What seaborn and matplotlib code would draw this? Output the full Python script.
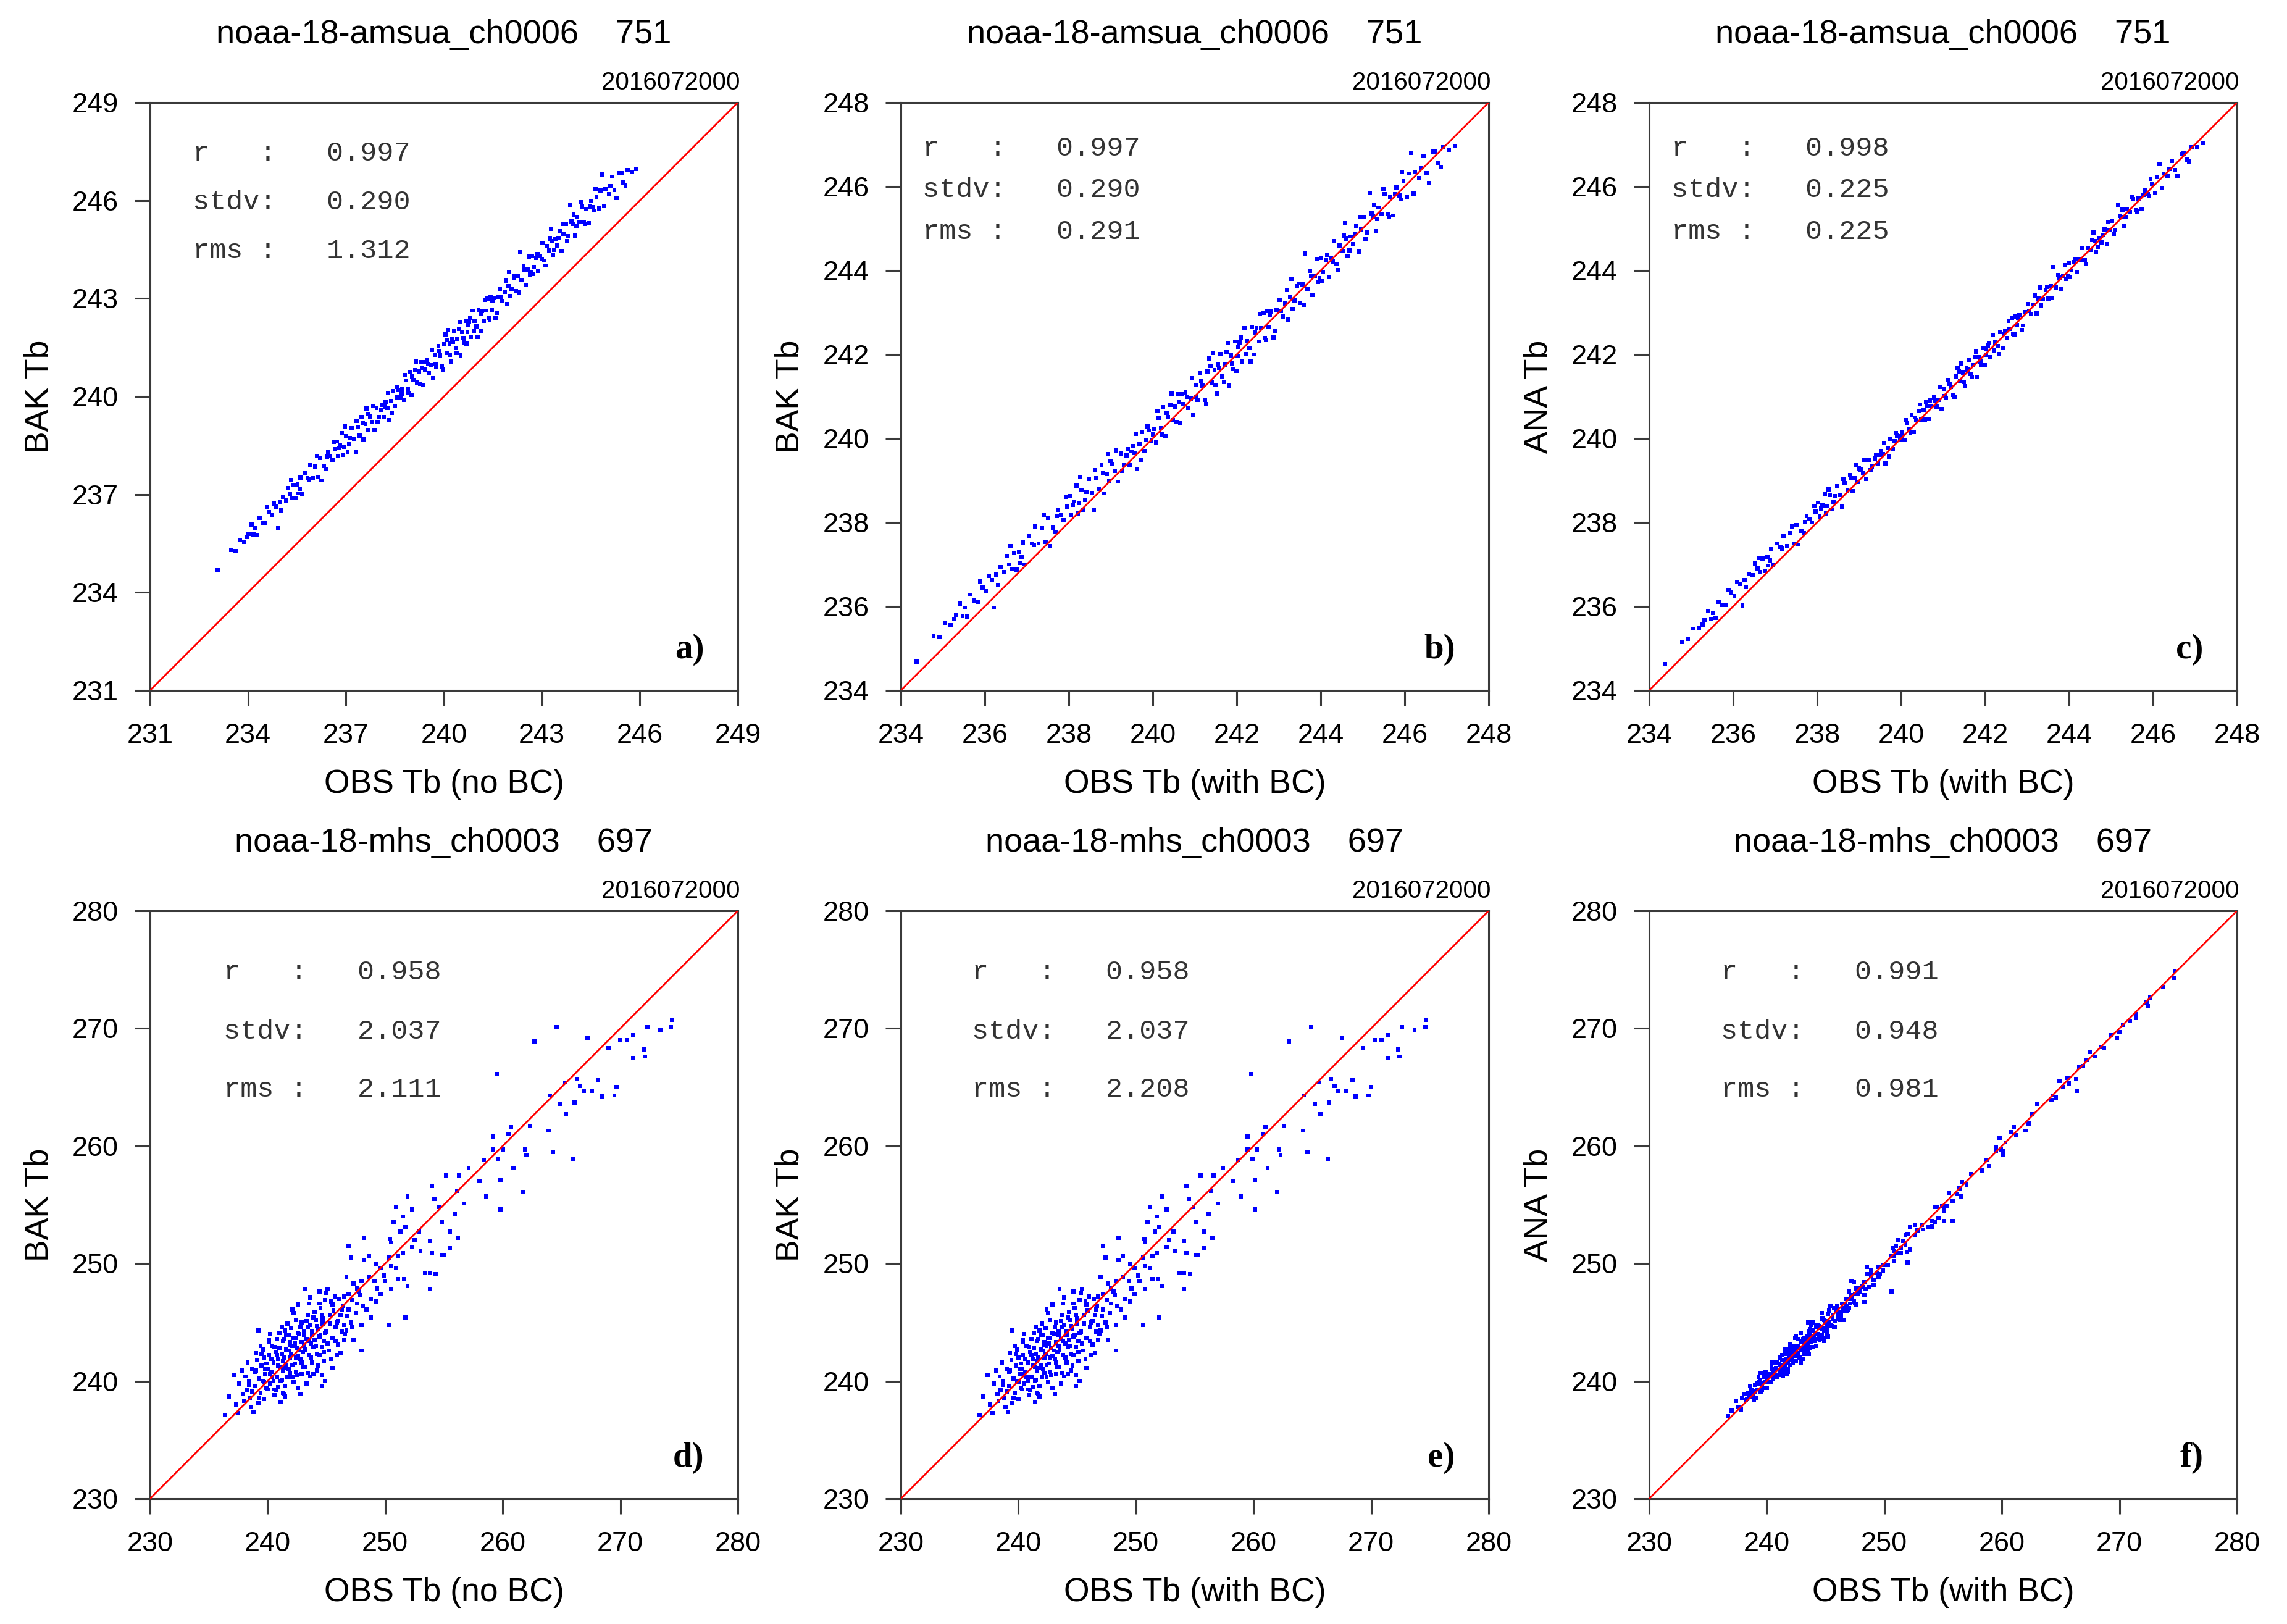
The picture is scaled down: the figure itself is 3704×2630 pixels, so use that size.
import matplotlib
matplotlib.use("Agg")
import matplotlib.pyplot as plt
import seaborn as sns
import pandas as pd

sns.set_theme(style="ticks")
plt.rcParams['font.family'] = ['Liberation Sans', 'DejaVu Sans']

# ---------------- data: AMSU-A channel 6 ----------------
amsua_obs_bc = [234.37, 234.78, 234.92, 235.05, 235.18, 235.32, 235.41, 235.47, 235.52, 235.58,
                235.66, 235.74, 235.83, 235.95, 236.03, 236.10, 236.17, 236.22, 236.31, 236.38,
                236.46, 236.52, 236.58, 236.64, 236.70, 236.76, 236.82, 236.88, 236.95, 237.05,
                237.12, 237.20, 237.28, 237.36, 237.45, 237.55, 237.62, 237.68, 237.75, 237.82,
                237.88, 237.96, 238.02, 238.06, 238.12, 238.18, 238.24, 238.30, 238.35, 238.42,
                238.48, 238.55, 238.60, 238.66, 238.72, 238.78, 238.84, 238.90, 238.96, 239.04,
                239.10, 239.17, 239.24, 239.31, 239.38, 239.45, 239.52, 239.57, 239.62, 239.68,
                239.74, 239.80, 239.85, 239.91, 239.97, 240.03, 240.08, 240.14, 240.19, 240.25,
                240.30, 240.36, 240.42, 240.48, 240.54, 240.60, 240.66, 240.72, 240.78, 240.84,
                240.90, 240.96, 241.02, 241.07, 241.13, 241.18, 241.24, 241.30, 241.35, 241.41,
                241.47, 241.52, 241.56, 241.61, 241.66, 241.71, 241.76, 241.81, 241.86, 241.91,
                241.96, 242.02, 242.07, 242.13, 242.18, 242.24, 242.30, 242.36, 242.42, 242.47,
                242.53, 242.58, 242.64, 242.70, 242.76, 242.82, 242.88, 242.95, 243.02, 243.09,
                243.16, 243.23, 243.30, 243.37, 243.44, 243.51, 243.57, 243.63, 243.68, 243.74,
                243.80, 243.86, 243.93, 244.00, 244.06, 244.12, 244.19, 244.25, 244.32, 244.38,
                244.45, 244.52, 244.58, 244.64, 244.71, 244.77, 244.84, 244.90, 244.96, 245.03,
                245.10, 245.17, 245.24, 245.31, 245.38, 245.45, 245.52, 245.59, 245.66, 245.73,
                245.80, 245.87, 245.94, 246.05, 246.15, 246.25, 246.35, 246.45, 246.58, 246.68,
                246.80, 246.92, 247.05, 247.19,
                235.27, 235.89, 236.27, 236.61, 236.91, 237.17, 237.41, 237.71, 237.93, 238.09,
                238.27, 238.39, 238.63, 238.81, 238.99, 239.13, 239.27, 239.41, 239.59, 239.71,
                239.88, 240.01, 240.11, 240.22, 240.33, 240.45, 240.57, 240.69, 240.81, 240.93,
                241.04, 241.16, 241.27, 241.38, 241.49, 241.58, 241.69, 241.79, 241.89, 241.99,
                242.10, 242.21, 242.33, 242.44, 242.56, 242.67, 242.79, 242.91, 243.05, 243.19,
                243.33, 243.47, 243.60, 243.77, 243.90, 244.03, 244.16, 244.29, 244.41, 244.55,
                244.68, 244.81, 244.93, 245.07, 245.21, 245.35, 245.49, 245.63, 245.77, 245.91,
                246.09, 246.21, 246.39, 246.52, 246.73, 246.86, 236.83, 237.51, 238.21, 238.93,
                239.49, 240.63, 241.43, 242.03, 242.73, 243.27, 243.97, 244.61, 245.27, 245.97]

amsua_obs_nobc = [233.07, 233.48, 233.62, 233.75, 233.88, 234.02, 234.11, 234.17, 234.22, 234.28,
                  234.36, 234.44, 234.53, 234.65, 234.73, 234.80, 234.87, 234.92, 235.01, 235.08,
                  235.16, 235.22, 235.28, 235.34, 235.40, 235.46, 235.52, 235.58, 235.65, 235.75,
                  235.82, 235.90, 235.98, 236.06, 236.15, 236.25, 236.32, 236.38, 236.45, 236.52,
                  236.58, 236.66, 236.72, 236.76, 236.82, 236.88, 236.94, 237.00, 237.05, 237.12,
                  237.18, 237.25, 237.30, 237.36, 237.42, 237.48, 237.54, 237.60, 237.66, 237.74,
                  237.80, 237.87, 237.94, 238.01, 238.08, 238.15, 238.22, 238.27, 238.32, 238.38,
                  238.44, 238.50, 238.55, 238.61, 238.67, 238.73, 238.78, 238.84, 238.89, 238.95,
                  239.00, 239.06, 239.12, 239.18, 239.24, 239.30, 239.36, 239.42, 239.48, 239.54,
                  239.60, 239.66, 239.72, 239.77, 239.83, 239.88, 239.94, 240.00, 240.05, 240.11,
                  240.17, 240.22, 240.26, 240.31, 240.36, 240.41, 240.46, 240.51, 240.56, 240.61,
                  240.66, 240.72, 240.77, 240.83, 240.88, 240.94, 241.00, 241.06, 241.12, 241.17,
                  241.23, 241.28, 241.34, 241.40, 241.46, 241.52, 241.58, 241.65, 241.72, 241.79,
                  241.86, 241.93, 242.00, 242.07, 242.14, 242.21, 242.27, 242.33, 242.38, 242.44,
                  242.50, 242.56, 242.63, 242.70, 242.76, 242.82, 242.89, 242.95, 243.02, 243.08,
                  243.15, 243.22, 243.28, 243.34, 243.41, 243.47, 243.54, 243.60, 243.66, 243.73,
                  243.80, 243.87, 243.94, 244.01, 244.08, 244.15, 244.22, 244.29, 244.36, 244.43,
                  244.50, 244.57, 244.64, 244.75, 244.85, 244.95, 245.05, 245.15, 245.28, 245.38,
                  245.50, 245.62, 245.75, 245.89,
                  233.97, 234.59, 234.97, 235.31, 235.61, 235.87, 236.11, 236.41, 236.63, 236.79,
                  236.97, 237.09, 237.33, 237.51, 237.69, 237.83, 237.97, 238.11, 238.29, 238.41,
                  238.58, 238.71, 238.81, 238.92, 239.03, 239.15, 239.27, 239.39, 239.51, 239.63,
                  239.74, 239.86, 239.97, 240.08, 240.19, 240.28, 240.39, 240.49, 240.59, 240.69,
                  240.80, 240.91, 241.03, 241.14, 241.26, 241.37, 241.49, 241.61, 241.75, 241.89,
                  242.03, 242.17, 242.30, 242.47, 242.60, 242.73, 242.86, 242.99, 243.11, 243.25,
                  243.38, 243.51, 243.63, 243.77, 243.91, 244.05, 244.19, 244.33, 244.47, 244.61,
                  244.79, 244.91, 245.09, 245.22, 245.43, 245.56, 235.53, 236.21, 236.91, 237.63,
                  238.19, 239.33, 240.13, 240.73, 241.43, 241.97, 242.67, 243.31, 243.97, 244.67]

amsua_bak = [234.68, 235.30, 235.27, 235.61, 235.55, 235.80, 236.07, 235.77, 235.97, 235.76,
             236.28, 236.14, 236.11, 236.45, 236.36, 236.72, 236.62, 235.97, 236.51, 236.93,
             236.82, 237.20, 237.00, 236.89, 237.28, 236.88, 237.30, 237.18, 237.00, 237.67,
             237.50, 237.90, 237.50, 237.86, 237.53, 237.43, 237.87, 237.78, 238.30, 238.17,
             238.06, 238.38, 238.62, 238.18, 238.50, 238.88, 238.46, 238.78, 238.30, 238.72,
             239.03, 238.70, 238.30, 239.06, 238.80, 239.36, 238.69, 239.15, 238.98, 239.39,
             239.22, 238.97, 239.64, 239.36, 239.60, 239.37, 239.82, 239.65, 239.27, 239.86,
             240.16, 239.70, 239.97, 240.19, 239.95, 240.23, 239.90, 240.49, 240.24, 240.75,
             240.05, 240.51, 240.80, 240.43, 240.76, 241.05, 240.36, 240.82, 241.10, 240.72,
             240.95, 240.56, 241.27, 240.92, 241.55, 241.26, 240.92, 241.60, 241.90, 241.33,
             241.62, 241.07, 241.76, 242.01, 241.48, 241.76, 242.06, 241.26, 241.98, 241.66,
             242.31, 241.97, 242.29, 241.83, 242.63, 242.32, 242.15, 242.66, 242.00, 242.62,
             242.31, 242.63, 242.99, 242.35, 242.66, 243.02, 242.40, 243.05, 243.30, 242.91,
             243.21, 242.83, 243.80, 243.29, 243.62, 243.23, 243.67, 244.41, 243.56, 243.99,
             243.42, 243.88, 243.73, 244.30, 243.96, 244.24, 243.84, 244.30, 244.70, 244.16,
             244.60, 244.47, 245.13, 244.34, 244.81, 244.62, 245.06, 244.45, 244.98, 245.28,
             244.90, 245.85, 245.29, 244.93, 245.50, 245.35, 245.82, 245.34, 245.74, 245.31,
             245.98, 245.79, 246.34, 245.75, 246.80, 246.35, 246.20, 246.73, 246.08, 246.83,
             246.55, 246.94, 246.87, 246.96,
             235.69, 236.60, 236.76, 237.44, 237.52, 237.46, 238.18, 238.15, 238.61, 238.42,
             239.08, 238.54, 239.25, 239.18, 239.47, 239.71, 239.22, 239.74, 240.11, 239.49,
             240.29, 240.09, 240.66, 240.10, 240.61, 241.07, 240.39, 241.05, 240.99, 241.43,
             240.99, 241.38, 240.82, 241.73, 241.27, 241.68, 241.34, 242.27, 241.79, 241.61,
             242.40, 242.01, 241.83, 242.52, 242.96, 242.39, 242.94, 242.56, 243.03, 243.54,
             243.08, 243.69, 243.18, 243.87, 244.28, 243.75, 244.36, 244.21, 244.01, 244.83,
             244.48, 244.86, 245.28, 244.75, 245.36, 245.23, 245.94, 245.28, 245.82, 245.69,
             246.31, 245.83, 246.44, 246.32, 246.83, 246.46, 237.03, 238.11, 238.21, 239.63,
             239.69, 240.88, 242.03, 242.18, 243.03, 243.37, 243.82, 244.76, 245.57, 246.12]

amsua_ana = [234.62, 235.16, 235.22, 235.47, 235.48, 235.67, 235.89, 235.69, 235.85, 235.73,
             236.11, 236.04, 236.03, 236.33, 236.25, 236.58, 236.53, 236.02, 236.46, 236.78,
             236.74, 237.02, 236.90, 236.82, 237.14, 236.84, 237.17, 237.10, 236.99, 237.50,
             237.42, 237.68, 237.44, 237.74, 237.50, 237.47, 237.80, 237.74, 238.15, 238.08,
             238.00, 238.26, 238.47, 238.14, 238.40, 238.68, 238.39, 238.65, 238.31, 238.62,
             238.86, 238.65, 238.38, 238.94, 238.76, 239.13, 238.74, 239.05, 238.96, 239.26,
             239.18, 239.03, 239.49, 239.33, 239.52, 239.40, 239.70, 239.62, 239.40, 239.78,
             239.99, 239.74, 239.93, 240.07, 239.97, 240.15, 239.96, 240.36, 240.22, 240.55,
             240.15, 240.44, 240.66, 240.45, 240.68, 240.88, 240.46, 240.78, 240.98, 240.76,
             240.92, 240.70, 241.17, 240.97, 241.39, 241.23, 241.04, 241.48, 241.67, 241.36,
             241.57, 241.24, 241.68, 241.86, 241.54, 241.74, 241.94, 241.46, 241.94, 241.75,
             242.16, 241.99, 242.21, 241.93, 242.46, 242.29, 242.20, 242.54, 242.16, 242.55,
             242.39, 242.61, 242.86, 242.48, 242.70, 242.94, 242.58, 243.01, 243.20, 242.97,
             243.19, 242.98, 243.60, 243.32, 243.54, 243.33, 243.63, 244.08, 243.60, 243.89,
             243.56, 243.87, 243.80, 244.18, 244.00, 244.20, 243.97, 244.28, 244.54, 244.24,
             244.54, 244.49, 244.90, 244.44, 244.77, 244.67, 244.98, 244.62, 244.97, 245.18,
             244.96, 245.57, 245.27, 245.07, 245.46, 245.39, 245.70, 245.43, 245.71, 245.47,
             245.90, 245.82, 246.18, 245.85, 246.53, 246.31, 246.25, 246.61, 246.26, 246.78,
             246.64, 246.93, 246.93, 247.04,
             235.57, 236.39, 236.63, 237.16, 237.36, 237.37, 237.91, 238.01, 238.39, 238.33,
             238.79, 238.49, 239.03, 239.06, 239.29, 239.49, 239.24, 239.61, 239.89, 239.57,
             240.13, 240.06, 240.44, 240.14, 240.50, 240.81, 240.45, 240.91, 240.91, 241.23,
             241.01, 241.30, 240.99, 241.60, 241.35, 241.64, 241.47, 242.07, 241.83, 241.75,
             242.28, 242.09, 242.01, 242.49, 242.80, 242.49, 242.88, 242.69, 243.04, 243.41,
             243.17, 243.61, 243.34, 243.83, 244.12, 243.85, 244.28, 244.24, 244.16, 244.72,
             244.56, 244.84, 245.15, 244.87, 245.30, 245.27, 245.76, 245.41, 245.80, 245.77,
             246.23, 245.97, 246.42, 246.39, 246.79, 246.60, 236.97, 237.93, 238.21, 239.38,
             239.61, 240.78, 241.79, 242.12, 242.91, 243.33, 243.88, 244.70, 245.45, 246.06]

# ---------------- data: MHS channel 3 ----------------
mhs_obs_nobc = [274.4, 274.3, 273.4, 272.3, 271.1, 270.6, 270.0, 271.1, 272.0, 272.1,
                269.0, 267.2, 264.6, 262.7, 269.7, 269.5, 268.4, 268.1, 267.6, 266.9,
                266.6, 266.3, 266.1, 265.4, 265.3, 264.9, 264.0, 266.0, 264.3, 263.9,
                262.3, 261.9, 262.0, 260.9, 261.7, 260.7, 260.5, 259.5, 260.0, 259.6,
                259.2, 259.8, 259.2, 259.8, 258.4, 258.6, 258.0, 257.1, 256.7, 256.3,
                256.1, 255.2, 255.9, 256.2, 255.5, 254.6, 254.8, 254.0, 254.2, 253.8,
                254.0, 254.8, 255.0, 255.5, 253.8, 253.4, 253.8, 254.3, 253.0, 252.5,
                252.3, 252.9, 251.9, 250.9, 251.5, 251.7, 252.3, 251.3, 250.7, 250.5,
                250.3, 250.9, 251.1, 251.5, 251.6, 251.9, 251.7, 250.0, 250.5, 251.1,
                250.5, 250.3, 249.6, 249.2, 249.1, 248.8, 249.2, 249.6, 248.2, 248.2,
                248.6, 248.0, 247.3, 247.8, 248.4, 248.8, 248.0, 247.6, 246.9, 247.1,
                246.7, 246.5, 246.9, 247.1, 246.3, 248.0, 247.3, 246.7,
                236.4, 236.7, 237.1, 237.6, 238.0, 238.4, 238.8, 239.0, 239.2, 239.7, 240.1, 240.5,
                241.1, 241.5, 241.5, 242.1, 242.6, 243.2, 243.6, 244.2, 244.6, 244.9,
                244.4, 245.1, 245.5, 245.9, 246.3, 245.9, 245.5, 246.5, 246.5,
                238.2, 238.5, 238.7, 238.9, 238.3, 238.6, 238.9, 238.1,
                239.1, 239.3, 239.4, 239.5, 239.6, 239.8, 239.9, 239.2, 239.7, 239.4, 239.9, 239.6,
                240.0, 240.1, 240.2, 240.3, 240.4, 240.5, 240.6, 240.7, 240.8, 240.9, 240.2, 240.5, 240.8, 240.9,
                241.0, 241.1, 241.2, 241.3, 241.4, 241.5, 241.6, 241.7, 241.8, 241.9, 241.2, 241.4, 241.6, 241.8, 241.9, 241.3,
                242.0, 242.1, 242.2, 242.3, 242.4, 242.5, 242.6, 242.7, 242.8, 242.9, 242.2, 242.4, 242.6, 242.8, 242.9, 242.1,
                243.0, 243.1, 243.2, 243.3, 243.4, 243.5, 243.6, 243.7, 243.8, 243.9, 243.3, 243.5, 243.8, 243.1,
                244.0, 244.1, 244.2, 244.3, 244.5, 244.6, 244.7, 244.8, 244.9, 244.4, 244.6, 244.8,
                245.0, 245.2, 245.3, 245.5, 245.7, 245.8, 246.0, 246.2, 245.4, 246.1,
                247.5, 247.9, 246.8, 247.2, 237.3, 237.8, 237.5,
                238.4, 239.0, 239.3, 239.5, 239.8, 240.0, 240.1, 240.3, 240.4, 240.6,
                240.7, 240.9, 241.0, 241.1, 241.2, 241.3, 241.4, 241.5, 241.6, 241.7,
                241.8, 241.9, 242.0, 242.1, 242.2, 242.3, 242.4, 242.5, 242.6, 242.7,
                242.8, 242.9, 243.0, 243.1, 243.2, 243.3, 243.4, 243.5, 243.6, 243.7,
                243.8, 243.9, 244.0, 244.1, 244.2, 244.3, 244.4, 244.5, 244.6, 244.7,
                244.8, 244.9, 245.0, 245.1, 245.3, 245.4, 245.6, 245.8, 246.0, 246.2,
                246.4, 246.6, 246.9, 247.2, 247.6, 248.1, 248.6, 249.3, 249.9, 250.4,
                240.2, 240.8, 241.3, 241.9, 242.4, 242.9, 243.4, 243.9, 244.4, 239.7,
                238.7, 237.9]

mhs_obs_bc = [274.7, 274.6, 273.7, 272.6, 271.4, 270.9, 270.3, 271.4, 272.3, 272.4,
              269.3, 267.5, 264.9, 263.0, 270.0, 269.8, 268.7, 268.4, 267.9, 267.2,
              266.9, 266.6, 266.4, 265.7, 265.6, 265.2, 264.3, 266.3, 264.6, 264.2,
              262.6, 262.2, 262.3, 261.2, 262.0, 261.0, 260.8, 259.8, 260.3, 259.9,
              259.5, 260.1, 259.5, 260.1, 258.7, 258.9, 258.3, 257.4, 257.0, 256.6,
              256.4, 255.5, 256.2, 256.5, 255.8, 254.9, 255.1, 254.3, 254.5, 254.1,
              254.3, 255.1, 255.3, 255.8, 254.1, 253.7, 254.1, 254.6, 253.3, 252.8,
              252.6, 253.2, 252.2, 251.2, 251.8, 252.0, 252.6, 251.6, 251.0, 250.8,
              250.6, 251.2, 251.4, 251.8, 251.9, 252.2, 252.0, 250.3, 250.8, 251.4,
              250.8, 250.6, 249.9, 249.5, 249.4, 249.1, 249.5, 249.9, 248.5, 248.5,
              248.9, 248.3, 247.6, 248.1, 248.7, 249.1, 248.3, 247.9, 247.2, 247.4,
              247.0, 246.8, 247.2, 247.4, 246.6, 248.3, 247.6, 247.0,
              236.7, 237.0, 237.4, 237.9, 238.3, 238.7, 239.1, 239.3, 239.5, 240.0, 240.4, 240.8,
              241.4, 241.8, 241.8, 242.4, 242.9, 243.5, 243.9, 244.5, 244.9, 245.2,
              244.7, 245.4, 245.8, 246.2, 246.6, 246.2, 245.8, 246.8, 246.8,
              238.5, 238.8, 239.0, 239.2, 238.6, 238.9, 239.2, 238.4,
              239.4, 239.6, 239.7, 239.8, 239.9, 240.1, 240.2, 239.5, 240.0, 239.7, 240.2, 239.9,
              240.3, 240.4, 240.5, 240.6, 240.7, 240.8, 240.9, 241.0, 241.1, 241.2, 240.5, 240.8, 241.1, 241.2,
              241.3, 241.4, 241.5, 241.6, 241.7, 241.8, 241.9, 242.0, 242.1, 242.2, 241.5, 241.7, 241.9, 242.1, 242.2, 241.6,
              242.3, 242.4, 242.5, 242.6, 242.7, 242.8, 242.9, 243.0, 243.1, 243.2, 242.5, 242.7, 242.9, 243.1, 243.2, 242.4,
              243.3, 243.4, 243.5, 243.6, 243.7, 243.8, 243.9, 244.0, 244.1, 244.2, 243.6, 243.8, 244.1, 243.4,
              244.3, 244.4, 244.5, 244.6, 244.8, 244.9, 245.0, 245.1, 245.2, 244.7, 244.9, 245.1,
              245.3, 245.5, 245.6, 245.8, 246.0, 246.1, 246.3, 246.5, 245.7, 246.4,
              247.8, 248.2, 247.1, 247.5, 237.6, 238.1, 237.8,
              238.7, 239.3, 239.6, 239.8, 240.1, 240.3, 240.4, 240.6, 240.7, 240.9,
              241.0, 241.2, 241.3, 241.4, 241.5, 241.6, 241.7, 241.8, 241.9, 242.0,
              242.1, 242.2, 242.3, 242.4, 242.5, 242.6, 242.7, 242.8, 242.9, 243.0,
              243.1, 243.2, 243.3, 243.4, 243.5, 243.6, 243.7, 243.8, 243.9, 244.0,
              244.1, 244.2, 244.3, 244.4, 244.5, 244.6, 244.7, 244.8, 244.9, 245.0,
              245.1, 245.2, 245.3, 245.4, 245.6, 245.7, 245.9, 246.1, 246.3, 246.5,
              246.7, 246.9, 247.2, 247.5, 247.9, 248.4, 248.9, 249.6, 250.2, 250.7,
              240.5, 241.1, 241.6, 242.2, 242.7, 243.2, 243.7, 244.2, 244.7, 240.0,
              239.0, 238.2]

mhs_bak = [270.7, 270.1, 269.9, 270.1, 269.4, 269.0, 269.0, 267.5, 268.2, 267.6,
           268.3, 269.2, 270.1, 268.9, 265.0, 264.3, 264.2, 265.6, 264.7, 264.7,
           265.1, 265.7, 263.7, 262.7, 265.4, 263.6, 264.3, 258.9, 259.5, 261.3,
           261.7, 259.7, 259.2, 258.1, 256.1, 261.6, 261.0, 266.1, 259.7, 258.9,
           259.7, 257.1, 260.8, 254.6, 258.8, 255.7, 257.0, 258.1, 255.1, 257.5,
           256.2, 257.5, 254.2, 252.2, 252.7, 254.8, 253.5, 256.6, 255.5, 251.9,
           250.9, 250.7, 250.7, 251.3, 249.2, 249.2, 247.8, 249.1, 251.1, 252.0,
           251.4, 252.7, 255.7, 254.8, 254.0, 253.1, 254.6, 252.7, 253.5, 251.8,
           250.5, 249.6, 250.6, 250.9, 248.7, 248.1, 245.4, 248.5, 247.8, 248.7,
           249.8, 244.8, 249.6, 250.0, 248.5, 247.0, 246.8, 247.4, 252.2, 250.3,
           248.9, 248.5, 248.3, 247.6, 246.1, 245.4, 244.8, 246.6, 251.5, 250.5,
           248.9, 247.2, 246.1, 245.0, 246.1, 242.6, 243.5, 244.3,
           237.1, 238.7, 240.5, 239.8, 238.3, 240.0, 237.4, 242.4, 244.3, 238.5, 243.5, 239.3,
           238.2, 238.7, 244.3, 246.1, 246.5, 247.8, 240.4, 240.9, 239.6, 240.0,
           247.6, 247.8, 241.1, 242.2, 244.2, 245.0, 246.5, 243.5, 244.8,
           239.2, 238.6, 241.0, 239.6, 241.6, 237.8, 240.8, 240.4,
           241.8, 240.2, 239.0, 241.3, 242.7, 240.6, 239.4, 238.1, 242.0, 243.0, 241.5, 240.0,
           241.0, 242.2, 239.8, 240.8, 243.0, 241.6, 238.8, 242.5, 240.3, 241.9, 244.0, 240.0, 243.6, 239.5,
           242.8, 241.2, 240.1, 243.4, 242.0, 239.6, 241.4, 244.9, 242.6, 240.7, 244.6, 238.9, 243.9, 241.0, 243.1, 241.7,
           242.3, 240.3, 243.7, 241.5, 245.2, 242.8, 239.4, 244.0, 241.9, 243.3, 245.8, 240.8, 242.1, 244.6, 240.6, 243.0,
           242.5, 244.2, 241.2, 243.6, 245.6, 242.2, 244.8, 243.2, 241.6, 245.4, 239.8, 246.6, 243.9, 243.0,
           243.5, 245.2, 242.3, 244.4, 246.2, 242.9, 244.9, 241.7, 246.9, 243.8, 245.6, 243.4,
           244.2, 242.6, 245.6, 243.7, 247.2, 244.6, 243.1, 245.6, 246.8, 247.0,
           245.8, 247.3, 245.5, 246.9, 238.0, 240.9, 237.3,
           239.7, 240.9, 238.6, 242.3, 241.0, 239.3, 243.3, 241.9, 240.3, 242.9,
           239.2, 241.3, 244.1, 240.0, 242.3, 239.0, 243.6, 241.1, 242.7, 240.3,
           243.9, 242.0, 244.5, 241.4, 239.9, 243.2, 242.0, 240.5, 244.1, 242.6,
           238.9, 245.0, 241.2, 243.9, 242.7, 245.1, 240.7, 243.4, 247.1, 242.0,
           244.2, 240.6, 245.9, 243.0, 244.7, 241.3, 246.6, 243.9, 240.5, 245.3,
           242.5, 244.1, 247.5, 243.2, 244.9, 241.9, 246.0, 243.4, 245.1, 242.4,
           246.4, 244.0, 247.4, 244.6, 247.9, 246.4, 250.6, 247.9, 249.0, 252.1,
           240.6, 242.2, 240.9, 243.3, 243.7, 241.6, 244.6, 242.9, 242.2, 239.9,
           239.1, 238.9]

mhs_ana = [274.9, 274.3, 273.5, 272.6, 271.2, 270.6, 270.3, 270.9, 272.2, 271.9,
           269.4, 268.0, 265.5, 263.6, 269.7, 269.2, 268.3, 268.4, 267.6, 267.3,
           266.8, 266.7, 264.7, 265.3, 265.8, 265.0, 264.3, 265.7, 264.1, 263.9,
           262.7, 261.9, 261.9, 260.9, 261.3, 261.6, 261.2, 260.7, 260.3, 259.7,
           259.6, 259.6, 259.9, 259.3, 258.8, 258.3, 257.9, 257.6, 256.7, 256.9,
           256.4, 256.0, 255.9, 255.7, 253.6, 254.9, 253.6, 254.8, 254.8, 253.6,
           253.5, 254.5, 254.9, 255.3, 253.2, 253.1, 253.1, 253.9, 252.9, 252.8,
           252.4, 253.3, 253.1, 252.0, 252.4, 252.5, 253.3, 251.9, 251.5, 251.1,
           250.6, 250.9, 251.3, 251.6, 251.0, 251.2, 250.1, 249.9, 250.2, 250.9,
           250.6, 247.6, 249.9, 249.7, 249.2, 248.6, 248.9, 249.4, 249.7, 249.1,
           249.0, 248.4, 247.9, 248.1, 248.0, 248.2, 247.3, 247.6, 248.5, 248.4,
           247.6, 247.0, 247.0, 246.8, 246.6, 246.7, 246.5, 246.2,
           237.0, 237.5, 238.3, 238.6, 238.5, 239.2, 238.6, 240.3, 240.7, 239.4, 241.6, 240.3,
           240.4, 240.8, 242.7, 243.7, 244.1, 245.0, 242.9, 243.5, 243.4, 243.8,
           245.8, 246.4, 244.6, 245.2, 246.0, 245.9, 246.2, 246.0, 246.4,
           238.8, 238.7, 239.7, 239.3, 239.6, 238.4, 239.8, 239.0,
           240.1, 239.8, 239.4, 240.3, 240.8, 240.3, 239.9, 239.1, 240.6, 240.7, 240.6, 239.9,
           240.5, 241.0, 240.2, 240.7, 241.5, 241.1, 240.3, 241.5, 240.9, 241.4, 241.6, 240.5, 242.0, 240.6,
           241.8, 241.4, 241.0, 242.3, 241.9, 241.0, 241.8, 243.1, 242.3, 241.6, 242.7, 240.6, 242.7, 241.8, 242.6, 241.6,
           242.3, 241.7, 242.9, 242.2, 243.6, 242.8, 241.6, 243.4, 242.6, 243.2, 243.8, 242.1, 242.6, 243.6, 242.3, 242.6,
           243.0, 243.8, 242.7, 243.6, 244.4, 243.3, 244.3, 243.8, 243.4, 244.6, 242.3, 244.8, 244.0, 243.3,
           244.0, 244.7, 243.8, 244.5, 245.3, 244.3, 245.0, 244.0, 245.7, 244.4, 245.2, 244.6,
           245.0, 244.7, 245.6, 245.1, 246.4, 245.7, 245.5, 246.2, 246.2, 246.6,
           247.4, 248.0, 246.6, 247.4, 237.8, 238.9, 237.6,
           239.1, 239.9, 239.2, 240.6, 240.4, 239.9, 241.3, 241.0, 240.5, 241.6,
           240.5, 241.2, 242.2, 240.9, 241.7, 240.7, 242.4, 241.6, 242.2, 241.4,
           242.7, 242.1, 243.0, 242.1, 241.7, 242.8, 242.4, 242.0, 243.3, 242.8,
           241.9, 243.7, 242.6, 243.6, 243.2, 244.2, 242.8, 243.7, 245.0, 243.4,
           244.1, 243.0, 244.8, 243.9, 244.6, 243.6, 245.3, 244.5, 243.7, 245.1,
           244.3, 244.8, 246.0, 244.8, 245.3, 244.6, 246.0, 245.3, 245.9, 245.2,
           246.6, 246.1, 247.3, 246.6, 247.9, 247.8, 249.4, 249.1, 249.9, 251.3,
           240.5, 241.4, 241.3, 242.6, 243.0, 242.7, 244.0, 243.6, 243.9, 240.0,
           239.1, 238.4]

# ---------------- texts / axes ----------------
amsua_title = "noaa-18-amsua_ch0006    751"
mhs_title = "noaa-18-mhs_ch0003    697"
date_label = "2016072000"
amsua_nobc_ticks = [231, 234, 237, 240, 243, 246, 249]
amsua_bc_ticks = [234, 236, 238, 240, 242, 244, 246, 248]
mhs_ticks = [230, 240, 250, 260, 270, 280]

stat_names = ["r   :", "stdv:", "rms :"]
stats_a = ["0.997", "0.290", "1.312"]
stats_b = ["0.997", "0.290", "0.291"]
stats_c = ["0.998", "0.225", "0.225"]
stats_d = ["0.958", "2.037", "2.111"]
stats_e = ["0.958", "2.037", "2.208"]
stats_f = ["0.991", "0.948", "0.981"]

panels = [
    dict(x=amsua_obs_nobc, y=amsua_bak, ticks=amsua_nobc_ticks, title=amsua_title,
         xlabel="OBS Tb (no BC)", ylabel="BAK Tb", stats=stats_a, letter="a)",
         col=0, row=0, sx=0.0725, sy=[0.099, 0.182, 0.265]),
    dict(x=amsua_obs_bc, y=amsua_bak, ticks=amsua_bc_ticks, title=amsua_title,
         xlabel="OBS Tb (with BC)", ylabel="BAK Tb", stats=stats_b, letter="b)",
         col=1, row=0, sx=0.037, sy=[0.090, 0.161, 0.232]),
    dict(x=amsua_obs_bc, y=amsua_ana, ticks=amsua_bc_ticks, title=amsua_title,
         xlabel="OBS Tb (with BC)", ylabel="ANA Tb", stats=stats_c, letter="c)",
         col=2, row=0, sx=0.038, sy=[0.090, 0.161, 0.232]),
    dict(x=mhs_obs_nobc, y=mhs_bak, ticks=mhs_ticks, title=mhs_title,
         xlabel="OBS Tb (no BC)", ylabel="BAK Tb", stats=stats_d, letter="d)",
         col=0, row=1, sx=0.125, sy=[0.117, 0.217, 0.316]),
    dict(x=mhs_obs_bc, y=mhs_bak, ticks=mhs_ticks, title=mhs_title,
         xlabel="OBS Tb (with BC)", ylabel="BAK Tb", stats=stats_e, letter="e)",
         col=1, row=1, sx=0.121, sy=[0.117, 0.217, 0.316]),
    dict(x=mhs_obs_bc, y=mhs_ana, ticks=mhs_ticks, title=mhs_title,
         xlabel="OBS Tb (with BC)", ylabel="ANA Tb", stats=stats_f, letter="f)",
         col=2, row=1, sx=0.122, sy=[0.117, 0.217, 0.316]),
]

W, H = 3704, 2630
col_left = [243, 1459, 2671]
row_top = [166, 1475]
size = 952
spine_col = "#3a3a3a"

fig = plt.figure(figsize=(W / 100, H / 100), dpi=100)
fig.patch.set_facecolor("white")

for p in panels:
    left = col_left[p["col"]] / W
    bottom = (H - row_top[p["row"]] - size) / H
    ax = fig.add_axes([left, bottom, size / W, size / H])
    ax.set_facecolor("white")
    df = pd.DataFrame({"obs": p["x"], "model": p["y"]})
    sns.scatterplot(data=df, x="obs", y="model", ax=ax, marker="s", s=24,
                    color="#0000ff", linewidth=0, edgecolor="none", zorder=2)
    lims = [p["ticks"][0], p["ticks"][-1]]
    sns.lineplot(x=lims, y=lims, ax=ax, color="#ff0000", linewidth=2.0, zorder=3)
    ax.set_xlim(lims)
    ax.set_ylim(lims)
    ax.set_xticks(p["ticks"])
    ax.set_yticks(p["ticks"])
    ax.set_xticklabels([str(t) for t in p["ticks"]])
    ax.set_yticklabels([str(t) for t in p["ticks"]])
    for s in ax.spines.values():
        s.set_visible(True)
        s.set_linewidth(2.2)
        s.set_color(spine_col)
    ax.tick_params(axis="both", direction="out", length=18, width=2.2,
                   color=spine_col, labelsize=32.5, labelcolor="black")
    ax.tick_params(axis="x", pad=20)
    ax.tick_params(axis="y", pad=19)
    ax.set_xlabel(p["xlabel"], fontsize=38.5, labelpad=24, color="black")
    ax.set_ylabel(p["ylabel"], fontsize=38.5, labelpad=20, color="black")
    ax.text(0.5, 1.101, p["title"], transform=ax.transAxes, ha="center", va="baseline",
            fontsize=39, color="black")
    ax.text(1.004, 1.022, date_label, transform=ax.transAxes, ha="right", va="baseline",
            fontsize=29, color="black")
    for name, val, yy in zip(stat_names, p["stats"], p["sy"]):
        ax.text(p["sx"], 1 - yy, name + "   " + val, transform=ax.transAxes,
                ha="left", va="baseline", fontsize=32.5, family="Liberation Mono",
                color="#333333")
    ax.text(0.943, 0.055, p["letter"], transform=ax.transAxes, ha="right", va="baseline",
            fontsize=41, family="Liberation Serif", fontweight="bold", color="black")

fig.savefig("out.png", dpi=100, facecolor="white")
